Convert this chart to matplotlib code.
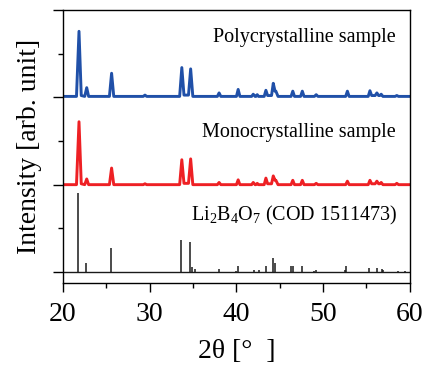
import numpy as np
import matplotlib
matplotlib.use('Agg')
import matplotlib.pyplot as plt

plt.rcParams['font.family'] = ['Liberation Serif', 'DejaVu Serif']
plt.rcParams['mathtext.fontset'] = 'custom'
plt.rcParams['mathtext.rm'] = 'Liberation Serif'


two_theta = [20.0, 21.55, 21.84, 22.1, 22.5, 22.73, 22.95, 25.35, 25.6, 25.85,
             29.25, 29.45, 29.65, 33.45, 33.7, 33.95, 34.47, 34.72, 34.97,
             37.8, 38.0, 38.2, 40.0, 40.2, 40.4, 41.75, 41.94, 42.15, 42.25,
             42.4, 42.55, 43.2, 43.4, 43.6, 44.05, 44.25, 44.45, 44.55, 44.8,
             46.3, 46.5, 46.7, 47.4, 47.6, 47.8, 49.0, 49.2, 49.4, 52.6, 52.8,
             53.0, 55.2, 55.4, 55.6, 56.0, 56.2, 56.4, 56.55, 56.7, 56.9,
             58.3, 58.5, 58.7, 60.0]

poly = [0.0, 0.0, 1.49, 0.02, 0.0, 0.20, 0.0, 0.0, 0.53, 0.0,
        0.0, 0.03, 0.0, 0.0, 0.66, 0.03, 0.03, 0.63, 0.0,
        0.0, 0.08, 0.0, 0.0, 0.16, 0.0, 0.0, 0.05, 0.0, 0.0,
        0.04, 0.0, 0.0, 0.14, 0.02, 0.02, 0.30, 0.12, 0.12, 0.0,
        0.0, 0.12, 0.0, 0.0, 0.12, 0.0, 0.0, 0.04, 0.0, 0.0, 0.12,
        0.0, 0.0, 0.13, 0.02, 0.02, 0.08, 0.02, 0.02, 0.05, 0.0,
        0.0, 0.02, 0.0, 0.0]

mono = [0.0, 0.0, 1.44, 0.02, 0.0, 0.13, 0.0, 0.0, 0.38, 0.0,
        0.0, 0.02, 0.0, 0.0, 0.57, 0.03, 0.03, 0.59, 0.0,
        0.0, 0.05, 0.0, 0.0, 0.11, 0.0, 0.0, 0.05, 0.0, 0.0,
        0.03, 0.0, 0.0, 0.15, 0.02, 0.02, 0.20, 0.10, 0.10, 0.0,
        0.0, 0.10, 0.0, 0.0, 0.10, 0.0, 0.0, 0.03, 0.0, 0.0, 0.08,
        0.0, 0.0, 0.10, 0.02, 0.02, 0.08, 0.02, 0.02, 0.05, 0.0,
        0.0, 0.03, 0.0, 0.0]

# reference pattern (COD 1511473)
ref_pos = [21.77, 22.69, 25.57, 33.64, 34.64, 34.9, 35.2, 37.98, 39.9, 40.2,
           42.0, 42.6, 43.4, 44.17, 44.4, 46.32, 46.5, 47.6, 49.0, 49.2,
           52.5, 52.66, 55.24, 56.2, 56.77, 56.9, 58.6, 59.4]
ref_int = [1.81, 0.21, 0.55, 0.73, 0.69, 0.11, 0.06, 0.06, 0.03, 0.14,
           0.05, 0.05, 0.14, 0.32, 0.20, 0.13, 0.13, 0.14, 0.02, 0.05,
           0.05, 0.14, 0.10, 0.10, 0.08, 0.04, 0.02, 0.02]

poly_offset = 4.02
mono_offset = 2.0

fig = plt.figure(figsize=(4.26, 3.67), dpi=100)
ax = fig.add_axes([0.148, 0.229, 0.814, 0.744])

ax.plot(two_theta, np.array(poly) + poly_offset, color='#2050a8', lw=2.1)
ax.plot(two_theta, np.array(mono) + mono_offset, color='#ee2024', lw=2.1)
ax.vlines(ref_pos, 0, ref_int, color='#1a1a1a', lw=1.1)
ax.axhline(0, color='#1a1a1a', lw=1.0)

ax.text(58.4, 5.27, 'Polycrystalline sample', ha='right', va='baseline', fontsize=14.5)
ax.text(58.4, 3.1, 'Monocrystalline sample', ha='right', va='baseline', fontsize=14.5)
ax.text(58.6, 1.19, r'Li$\mathregular{_2}$B$\mathregular{_4}$O$\mathregular{_7}$ (COD 1511473)',
        ha='right', va='baseline', fontsize=14.5)

ax.set_xlim(20, 60)
ax.set_ylim(-0.25, 6)
ax.set_xticks([20, 30, 40, 50, 60])
ax.set_xticks([25, 35, 45, 55], minor=True)
ax.set_yticks([0, 2, 4, 6])
ax.set_yticks([1, 3, 5], minor=True)
ax.set_yticklabels([])
ax.tick_params(which='major', direction='out', length=6.5, width=1.0, labelsize=20, pad=7)
ax.tick_params(which='minor', direction='out', length=3.5, width=1.0)
ax.tick_params(axis='y', which='major', length=7)
for s in ax.spines.values():
    s.set_linewidth(1.0)

ax.set_xlabel('2θ [°  ]', fontsize=20, labelpad=9)
ax.set_ylabel('Intensity [arb. unit]', fontsize=20)
ax.yaxis.set_label_coords(-0.06, 0.5)

plt.savefig('out.png', dpi=100)
